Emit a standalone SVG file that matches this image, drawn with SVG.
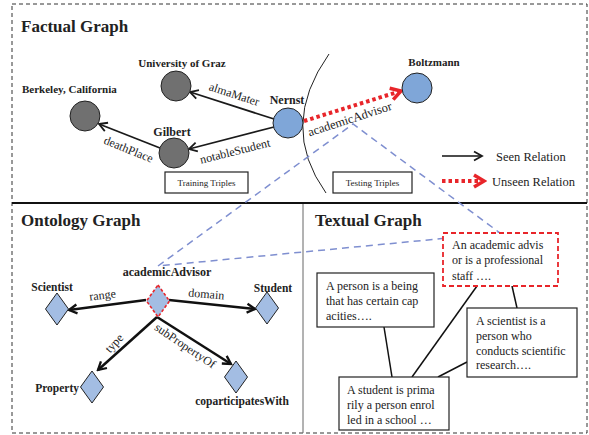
<svg xmlns="http://www.w3.org/2000/svg" width="589" height="435" viewBox="0 0 589 435" font-family="'Liberation Serif', 'DejaVu Serif', serif">
<style>
text{font-family:'Liberation Serif','DejaVu Serif',serif;fill:#222}
.title{font-size:17px;font-weight:bold}
.nl{font-size:11px;font-weight:bold}
.ol{font-size:11.5px;font-weight:bold}
.el{font-size:12px}
.tx{font-size:12px}
.sm{font-size:9px}
.gray{fill:#707070;stroke:#222;stroke-width:1}
.blue{fill:#7fa6d8;stroke:#222;stroke-width:1}
.dia{fill:#a3bde3;stroke:#222;stroke-width:1}
.dia-red{fill:#a3bde3;stroke:#e8252a;stroke-width:1.6;stroke-dasharray:3 2}
.edge{stroke:#1a1a1a;stroke-width:1.8;fill:none;marker-end:url(#ah)}
.oedge{stroke:#111;stroke-width:2.5;fill:none;marker-end:url(#ah2)}
.box{fill:#fff;stroke:#222;stroke-width:1.2}
.tl{stroke:#111;stroke-width:1.5}
.bd{stroke:#7f8fd0;stroke-width:1.5;stroke-dasharray:7 5;fill:none}
</style>
<defs>
<marker id="ah" markerUnits="userSpaceOnUse" viewBox="0 0 12 12" refX="10" refY="6" markerWidth="12" markerHeight="12" orient="auto">
<path d="M2,1.5 L10,6 L2,10.5" fill="none" stroke="#1a1a1a" stroke-width="1.8"/>
</marker>
<marker id="ah2" markerUnits="userSpaceOnUse" viewBox="0 0 12 12" refX="10" refY="6" markerWidth="12" markerHeight="12" orient="auto">
<path d="M2,1.5 L10,6 L2,10.5" fill="none" stroke="#111" stroke-width="2.3"/>
</marker>
<marker id="ahr" markerUnits="userSpaceOnUse" viewBox="0 0 16 16" refX="13" refY="8" markerWidth="16" markerHeight="16" orient="auto">
<path d="M3,2 L13,8 L3,14" fill="none" stroke="#e8252a" stroke-width="3.5"/>
</marker>
</defs>

<!-- frame -->
<rect x="12" y="4" width="575" height="429" fill="none" stroke="#333" stroke-width="1" stroke-dasharray="4 3"/>
<line x1="12" y1="203" x2="587" y2="203" stroke="#111" stroke-width="2.2"/>
<line x1="303" y1="204" x2="303" y2="433" stroke="#666" stroke-width="1"/>

<!-- titles -->
<text class="title" x="21" y="32">Factual Graph</text>
<text class="title" x="21" y="226">Ontology Graph</text>
<text class="title" x="315" y="226">Textual Graph</text>

<!-- testing boundary arc -->
<path d="M329,54 Q278,126 326,193" fill="none" stroke="#222" stroke-width="1"/>

<g id="connectors">
  <!-- factual -->
  <line class="edge" x1="274" y1="119" x2="190" y2="92"/>
  <line class="edge" x1="274" y1="127" x2="189" y2="149"/>
  <line class="edge" x1="160" y1="148" x2="99" y2="124"/>
  <line x1="304" y1="121" x2="401" y2="91" stroke="#e8252a" stroke-width="4" stroke-dasharray="3.5 3" marker-end="url(#ahr)"/>
  <text class="el" transform="translate(233,98) rotate(18)" text-anchor="middle">almaMater</text>
  <text class="el" transform="translate(236,155) rotate(-14)" text-anchor="middle">notableStudent</text>
  <text class="el" transform="translate(127,153) rotate(22)" text-anchor="middle">deathPlace</text>
  <text style="font-size:12.5px" transform="translate(351,123) rotate(-18)" text-anchor="middle">academicAdvisor</text>
  <!-- blue dashed links -->
  <polyline class="bd" points="158,266 353,124 500,233 158,266"/>
  <!-- ontology -->
  <line class="oedge" x1="146" y1="300" x2="69" y2="310"/>
  <line class="oedge" x1="169" y1="300" x2="255" y2="309"/>
  <line class="oedge" x1="157" y1="317" x2="98" y2="370"/>
  <line class="oedge" x1="157" y1="317" x2="231" y2="364"/>
  <text class="el" transform="translate(103,299) rotate(-7)" text-anchor="middle">range</text>
  <text class="el" transform="translate(206,298) rotate(5)" text-anchor="middle">domain</text>
  <text class="el" transform="translate(117,346) rotate(-47)" text-anchor="middle">type</text>
  <text class="el" transform="translate(183,349) rotate(34)" text-anchor="middle">subPropertyOf</text>
  <!-- textual -->
  <line class="tl" x1="384" y1="327" x2="392" y2="377"/>
  <line class="tl" x1="477" y1="286" x2="412" y2="377"/>
  <line class="tl" x1="512" y1="286" x2="517" y2="308"/>
  <line class="tl" x1="467" y1="362" x2="438" y2="377"/>
</g>

<!-- factual nodes -->
<g id="graz"><circle class="gray" cx="176" cy="86" r="15"/><text class="nl" x="182" y="67" text-anchor="middle">University of Graz</text></g>
<g id="berkeley"><circle class="gray" cx="85" cy="116" r="15"/><text class="nl" x="22" y="93">Berkeley, California</text></g>
<g id="gilbert"><circle class="gray" cx="174" cy="153" r="15"/><text class="nl" x="172" y="136" text-anchor="middle" style="font-size:12px">Gilbert</text></g>
<g id="nernst"><circle class="blue" cx="288" cy="123" r="15"/><text class="nl" x="287" y="104" text-anchor="middle" style="font-size:12px">Nernst</text></g>
<g id="boltzmann"><circle class="blue" cx="417" cy="88" r="15"/><text class="nl" x="434" y="66" text-anchor="middle">Boltzmann</text></g>

<g id="training"><rect class="box" x="165" y="172" width="83" height="21"/><text class="sm" x="206.5" y="186" text-anchor="middle">Training Triples</text></g>
<g id="testing"><rect class="box" x="333" y="172" width="79" height="21"/><text class="sm" x="372.5" y="186" text-anchor="middle">Testing Triples</text></g>

<!-- legend -->
<g id="legend">
  <line x1="442" y1="156" x2="482" y2="156" stroke="#111" stroke-width="1.3" marker-end="url(#ah)"/>
  <text x="496" y="161" style="font-size:12.5px">Seen Relation</text>
  <line x1="442" y1="181" x2="484" y2="181" stroke="#e8252a" stroke-width="4" stroke-dasharray="3.5 3" marker-end="url(#ahr)"/>
  <text x="492" y="186" style="font-size:12.5px">Unseen Relation</text>
</g>

<!-- ontology nodes -->
<g id="o-academicAdvisor"><polygon points="158,285 169.5,301 158,317 146.5,301" class="dia-red"/><text class="ol" x="167" y="276" text-anchor="middle" style="font-size:12px">academicAdvisor</text></g>
<g id="o-scientist"><polygon points="57,293 68.5,309 57,325 45.5,309" class="dia"/><text class="ol" x="52" y="291" text-anchor="middle">Scientist</text></g>
<g id="o-student"><polygon points="267,292 278.5,308 267,324 255.5,308" class="dia"/><text class="ol" x="273" y="292" text-anchor="middle">Student</text></g>
<g id="o-property"><polygon points="92,371 103.5,387 92,403 80.5,387" class="dia"/><text class="ol" x="79" y="392" text-anchor="end">Property</text></g>
<g id="o-coparticipates"><polygon points="236,361 247.5,377 236,393 224.5,377" class="dia"/><text class="ol" x="242" y="405" text-anchor="middle">coparticipatesWith</text></g>

<!-- textual nodes -->
<g id="t-academic"><rect x="443" y="233" width="115" height="53" fill="#fff" stroke="#e8252a" stroke-width="1.8" stroke-dasharray="5 3"/>
<text class="tx" x="452" y="249">An academic advis</text><text class="tx" x="452" y="264">or is a professional</text><text class="tx" x="452" y="280">staff ….</text></g>
<g id="t-person"><rect class="box" x="317" y="273" width="117" height="54"/>
<text class="tx" x="326" y="290">A person is a being</text><text class="tx" x="326" y="305">that has certain cap</text><text class="tx" x="326" y="320">acities….</text></g>
<g id="t-scientist"><rect class="box" x="467" y="308" width="110" height="69"/>
<text class="tx" x="476" y="325">A scientist is a</text><text class="tx" x="476" y="340">person who</text><text class="tx" x="476" y="355">conducts scientific</text><text class="tx" x="476" y="369">research….</text></g>
<g id="t-student"><rect class="box" x="339" y="377" width="110" height="53"/>
<text class="tx" x="347" y="394">A student is prima</text><text class="tx" x="347" y="409">rily a person enrol</text><text class="tx" x="347" y="424">led in a school …</text></g>
</svg>
